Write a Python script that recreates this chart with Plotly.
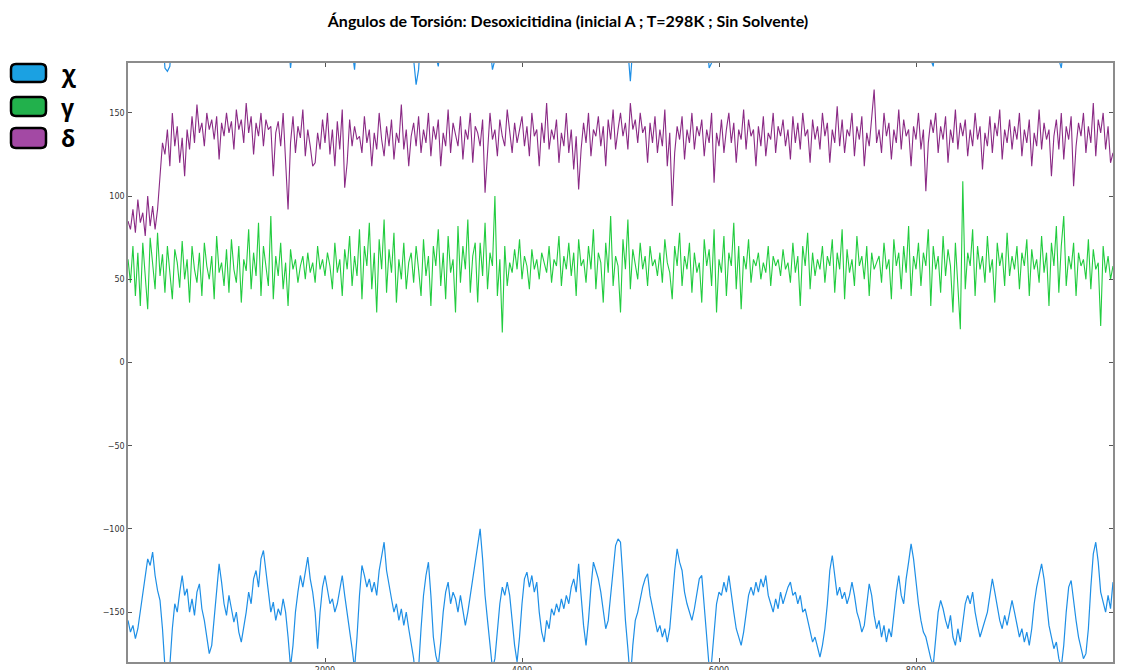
import plotly.graph_objects as go

# ---------------- data ----------------
time_step = 25  # frames between samples

chi_values = (
    [-155, -162, -158, -166, -160, -150, -140, -128, -118, -122,
     -114, -128, -137, -143, -160, -183, -185, -182, -160, -145,
     -150, -138, -128, -140, -136, -150, -142, -152, -138, -133,
     -148, -155, -165, -175, -170, -155, -138, -121, -132, -145]
    + [-152, -140, -148, -156, -150, -162, -168, -160, -150, -138,
       -145, -130, -125, -135, -118, -113, -125, -138, -150, -144,
       -155, -148, -152, -142, -150, -165, -183, -170, -150, -138,
       -128, -135, -125, -117, -130, -138, -150, -172, -150, -135]
    + [-128, -138, -145, -142, -150, -145, -135, -128, -140, -150,
       -160, -172, -184, -165, -140, -122, -128, -135, -130, -138,
       -132, -140, -125, -115, -108, -125, -135, -142, -150, -145,
       -155, -148, -158, -150, -160, -168, -178, -193, -184, -160]
    + [-140, -128, -120, -140, -165, -176, -182, -168, -150, -138,
       -132, -145, -138, -142, -150, -140, -148, -158, -150, -140,
       -130, -122, -112, -100, -118, -140, -155, -170, -184, -178,
       -160, -145, -135, -140, -132, -140, -155, -170, -180, -165]
    + [-145, -130, -126, -135, -128, -138, -132, -150, -162, -168,
       -155, -160, -148, -152, -145, -150, -142, -148, -140, -145,
       -135, -130, -138, -121, -140, -158, -170, -155, -135, -120,
       -125, -130, -138, -150, -160, -155, -140, -125, -110, -106]
    + [-108, -130, -155, -172, -191, -170, -155, -150, -142, -135,
       -130, -127, -140, -148, -155, -162, -158, -165, -160, -168,
       -160, -140, -125, -112, -120, -125, -138, -145, -150, -155,
       -148, -138, -130, -128, -145, -165, -183, -180, -160, -145]
    + [-138, -140, -132, -138, -128, -140, -150, -160, -165, -170,
       -162, -150, -140, -135, -140, -132, -138, -130, -135, -128,
       -140, -145, -150, -142, -148, -138, -145, -140, -135, -132,
       -140, -138, -145, -140, -150, -148, -155, -160, -168, -165]
    + [-172, -177, -170, -160, -145, -125, -116, -128, -140, -135,
       -142, -138, -145, -140, -132, -140, -150, -155, -162, -158,
       -145, -133, -140, -152, -160, -155, -165, -158, -168, -160,
       -165, -150, -138, -128, -140, -145, -130, -120, -109, -118]
    + [-132, -145, -155, -162, -165, -172, -178, -182, -165, -150,
       -143, -148, -155, -160, -152, -165, -170, -160, -168, -155,
       -145, -140, -145, -138, -150, -158, -165, -160, -155, -150,
       -140, -130, -138, -148, -155, -160, -152, -158, -150, -143]
    + [-150, -158, -165, -160, -168, -162, -170, -160, -145, -135,
       -128, -121, -130, -145, -158, -165, -172, -168, -178, -183,
       -170, -150, -135, -131, -145, -155, -165, -172, -178, -175,
       -160, -135, -115, -108, -120, -138, -145, -150, -140, -148,
       -132]
)

gamma_values = (
    [62, 48, 70, 40, 66, 34, 72, 50, 32, 75, 58, 44, 78, 52, 65, 42, 70, 55, 38, 68,
     60, 45, 73, 50, 62, 36, 70, 56, 48, 66, 40, 72, 58, 50, 64, 38, 76, 54, 60, 46]
    + [68, 42, 74, 56, 48, 70, 36, 62, 55, 80, 44, 66, 52, 84, 40, 70, 58, 46, 88, 38,
       64, 52, 72, 44, 60, 34, 68, 56, 62, 48, 58, 64, 50, 66, 54, 60, 48, 70, 56, 62]
    + [52, 66, 58, 44, 72, 54, 62, 40, 68, 56, 76, 46, 64, 52, 80, 38, 70, 58, 84, 44,
       66, 30, 74, 56, 86, 42, 68, 54, 78, 36, 62, 50, 72, 44, 60, 66, 48, 70, 56, 40]
    + [74, 52, 64, 34, 70, 58, 80, 46, 66, 38, 76, 54, 62, 30, 82, 48, 70, 56, 86, 42,
       64, 72, 36, 72, 52, 84, 44, 66, 58, 100, 40, 62, 18, 70, 46, 60, 54, 68, 56, 74]
    + [50, 64, 58, 44, 68, 56, 62, 50, 66, 60, 54, 70, 48, 62, 58, 76, 46, 64, 56, 72,
       52, 66, 40, 74, 58, 62, 48, 70, 56, 80, 44, 66, 60, 36, 72, 54, 88, 46, 64, 58]
    + [30, 74, 56, 86, 44, 68, 60, 50, 72, 56, 64, 46, 70, 58, 62, 52, 66, 48, 74, 60,
       54, 38, 70, 58, 78, 46, 64, 56, 72, 42, 66, 54, 60, 36, 74, 58, 68, 46, 80, 30]
    + [62, 54, 76, 40, 66, 58, 84, 44, 70, 32, 64, 56, 74, 48, 62, 58, 66, 50, 60, 54,
       70, 46, 64, 58, 62, 52, 68, 56, 60, 48, 72, 54, 64, 34, 70, 58, 78, 44, 66, 52]
    + [62, 56, 70, 48, 64, 58, 74, 42, 66, 56, 80, 38, 68, 54, 62, 46, 76, 58, 64, 50,
       70, 40, 66, 56, 60, 64, 48, 72, 56, 62, 38, 74, 58, 66, 44, 70, 54, 82, 40, 64]
    + [56, 72, 46, 66, 58, 80, 34, 70, 56, 64, 42, 76, 52, 68, 58, 30, 72, 48, 20, 109,
       44, 66, 58, 80, 40, 70, 56, 64, 48, 76, 54, 62, 36, 72, 58, 66, 46, 78, 52, 64]
    + [56, 70, 44, 66, 58, 74, 40, 68, 56, 62, 48, 76, 54, 66, 34, 72, 58, 82, 42, 70,
       88, 46, 64, 56, 72, 40, 66, 58, 62, 50, 74, 44, 68, 56, 60, 22, 70, 54, 64, 50,
       58]
)

delta_values = (
    [85, 80, 92, 78, 98, 84, 90, 76, 100, 82, 94, 80, 92, 115, 132, 125, 140, 118, 150, 130,
     142, 120, 135, 112, 140, 128, 148, 132, 155, 138, 144, 130, 150, 140, 146, 134, 148, 122, 144, 136]
    + [150, 138, 145, 128, 152, 140, 146, 132, 156, 138, 148, 125, 144, 136, 150, 130, 146, 140, 142, 112,
       138, 145, 130, 150, 118, 92, 132, 148, 126, 142, 135, 152, 124, 140, 130, 118, 120, 138, 128, 146]
    + [132, 150, 125, 140, 118, 145, 128, 152, 105, 120, 146, 130, 142, 134, 136, 126, 148, 132, 140, 118,
       138, 128, 150, 134, 124, 142, 130, 146, 122, 138, 132, 155, 128, 140, 118, 136, 144, 130, 148, 126]
    + [140, 132, 150, 124, 142, 134, 146, 118, 138, 130, 152, 126, 144, 136, 130, 148, 122, 140, 134, 150,
       120, 142, 138, 130, 146, 102, 128, 150, 134, 140, 124, 146, 136, 130, 152, 138, 126, 144, 132, 140]
    + [148, 130, 142, 124, 150, 136, 140, 118, 144, 132, 156, 128, 140, 134, 146, 120, 138, 130, 150, 126,
       140, 116, 136, 104, 128, 144, 132, 150, 124, 140, 136, 148, 130, 142, 118, 146, 134, 152, 128, 140]
    + [150, 136, 144, 128, 156, 140, 146, 132, 150, 138, 142, 120, 144, 132, 148, 126, 140, 130, 152, 118,
       138, 94, 126, 142, 134, 148, 122, 140, 132, 150, 128, 142, 136, 146, 124, 140, 132, 150, 108, 138]
    + [130, 146, 126, 140, 150, 132, 144, 120, 140, 134, 152, 128, 146, 136, 140, 118, 142, 130, 148, 124,
       138, 134, 150, 126, 142, 136, 146, 130, 140, 122, 148, 132, 144, 128, 150, 136, 140, 120, 146, 134]
    + [142, 128, 150, 136, 144, 120, 140, 132, 154, 130, 146, 126, 140, 136, 150, 124, 142, 134, 148, 118,
       138, 130, 146, 164, 132, 140, 126, 150, 136, 144, 122, 140, 132, 152, 128, 146, 136, 140, 118, 142]
    + [134, 150, 128, 140, 103, 132, 146, 138, 150, 126, 142, 134, 148, 120, 140, 132, 152, 128, 144, 136,
       146, 124, 140, 130, 150, 134, 142, 116, 138, 130, 148, 126, 144, 136, 152, 122, 140, 132, 146, 128]
    + [142, 134, 150, 124, 140, 132, 146, 118, 138, 130, 152, 128, 144, 134, 140, 112, 136, 146, 128, 150,
       122, 142, 134, 148, 106, 130, 144, 136, 150, 126, 142, 132, 156, 124, 146, 138, 150, 128, 142, 120,
       126]
)

x_ticks = [2000, 4000, 6000, 8000, 10000]
y_ticks = [-150, -100, -50, 0, 50, 100, 150]

series_names = ["χ", "γ", "δ"]
line_colors = ["#1e8fe6", "#22cc3f", "#8a2a85"]
legend_fill = ["#1ba1e2", "#22b14c", "#a349a4"]

title_text = "Ángulos de Torsión: Desoxicitidina (inicial A ; T=298K ; Sin Solvente)"

# ---------------- figure ----------------
def frames(vals):
    return [i * time_step for i in range(len(vals))]

# angles wrap at ±180: the parts of χ below -180 reappear at the top
n = len(chi_values)
chi_wrapped = []
for i in range(n):
    near = any(chi_values[j] < -180 for j in range(max(0, i - 1), min(n, i + 2)))
    chi_wrapped.append(chi_values[i] + 360 if near else None)

fig = go.Figure()
for vals, name, col, w in [(chi_values, series_names[0], line_colors[0], 1.2),
                           (gamma_values, series_names[1], line_colors[1], 1.1),
                           (delta_values, series_names[2], line_colors[2], 1.1)]:
    fig.add_trace(go.Scatter(x=frames(vals), y=vals, mode="lines", name=name,
                             line=dict(color=col, width=w), showlegend=False))
fig.add_trace(go.Scatter(x=frames(chi_wrapped), y=chi_wrapped, mode="lines",
                         line=dict(color=line_colors[0], width=1.2),
                         connectgaps=False, showlegend=False))

W, H = 1122, 670
L, R, T, B = 128, 9, 63, 8
pw, ph = W - L - R, H - T - B

def px(xp):
    return (xp - L) / pw

def py(yp):
    return (H - B - yp) / ph

def rounded_box(x0, y0, x1, y1, r):
    pts = []
    pts.append(f"M {px(x0 + r)},{py(y0)}")
    pts.append(f"L {px(x1 - r)},{py(y0)}")
    pts.append(f"Q {px(x1)},{py(y0)} {px(x1)},{py(y0 + r)}")
    pts.append(f"L {px(x1)},{py(y1 - r)}")
    pts.append(f"Q {px(x1)},{py(y1)} {px(x1 - r)},{py(y1)}")
    pts.append(f"L {px(x0 + r)},{py(y1)}")
    pts.append(f"Q {px(x0)},{py(y1)} {px(x0)},{py(y1 - r)}")
    pts.append(f"L {px(x0)},{py(y0 + r)}")
    pts.append(f"Q {px(x0)},{py(y0)} {px(x0 + r)},{py(y0)} Z")
    return " ".join(pts)

box_rows = [(64, 82), (97, 116), (128, 148)]
shapes = []
annotations = []
for (y0, y1), fillc, name in zip(box_rows, legend_fill, series_names):
    shapes.append(dict(type="path", xref="paper", yref="paper",
                       path=rounded_box(11, y0, 46, y1, 5),
                       fillcolor=fillc, line=dict(color="black", width=2.5)))
    annotations.append(dict(xref="paper", yref="paper", x=px(59), y=py((y0 + y1) / 2),
                            xanchor="left", yanchor="middle", showarrow=False,
                            text=f"<b>{name}</b>",
                            font=dict(family="Open Sans", size=23, color="black")))

fig.update_layout(
    width=W, height=H,
    margin=dict(l=L, r=R, t=T, b=B, autoexpand=False),
    paper_bgcolor="white", plot_bgcolor="white",
    title=dict(text=f"<b>{title_text}</b>", x=568 / W, xref="container", xanchor="center",
               y=1 - 21 / H, yref="container", yanchor="middle",
               font=dict(family="Lato", size=16, color="black")),
    shapes=shapes, annotations=annotations,
    showlegend=False,
    font=dict(family="DejaVu Sans", size=8, color="#333333"),
)
fig.update_xaxes(range=[0, 10000], tickvals=x_ticks, ticktext=[str(v) for v in x_ticks],
                 automargin=False,
                 showgrid=False, zeroline=False, showline=True, linecolor="#8c8c8c", linewidth=1.5,
                 mirror="ticks", ticks="inside", ticklen=4, tickcolor="#555555")
fig.update_yaxes(range=[-180, 180], tickvals=y_ticks, automargin=False,
                 showgrid=False, zeroline=False, showline=True, linecolor="#8c8c8c", linewidth=1.5,
                 mirror="ticks", ticks="inside", ticklen=4, tickcolor="#555555")

fig.write_html("out.html")
